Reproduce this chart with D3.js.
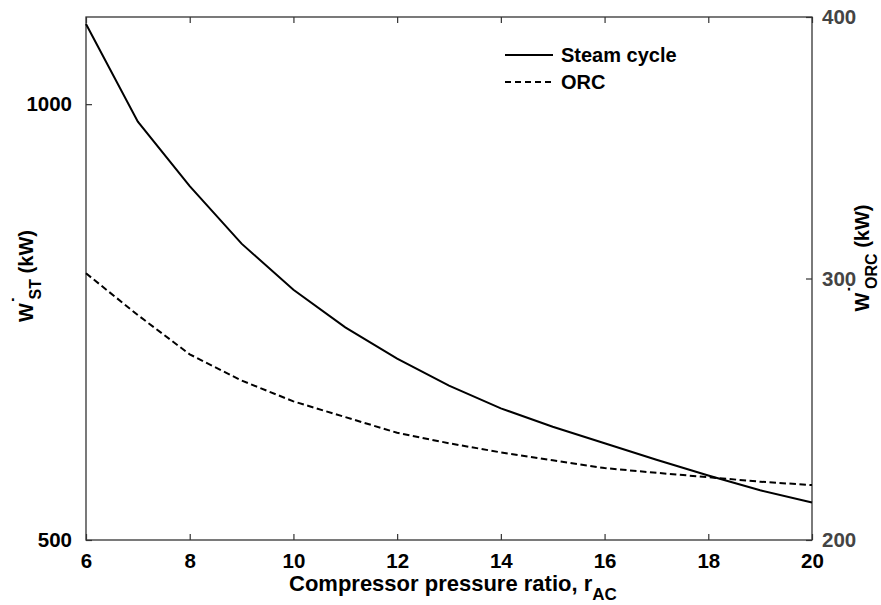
<!DOCTYPE html>
<html>
<head>
<meta charset="utf-8">
<script src="https://cdn.jsdelivr.net/npm/d3@7"></script>
<style>
  body { margin: 0; background: #fff; }
  svg text { font-family: "Liberation Sans", Arial, sans-serif; font-weight: bold; }
</style>
</head>
<body>
<svg id="chart" width="881" height="605"></svg>
<script>
// compressor pressure ratio r_AC
const ratio = [6, 7, 8, 9, 10, 11, 12, 13, 14, 15, 16, 17, 18, 19, 20];
// steam cycle power (kW), left axis
const steamPower = [1092, 980, 906, 840, 787, 744, 708, 677, 651, 630, 611, 592, 574, 557, 543];
// ORC power (kW), right axis
const orcPower = [302, 286, 271, 261, 253, 247, 241, 237, 233.5, 230.5, 227.5, 225.7, 224, 222.3, 221];

const xTicks = [6, 8, 10, 12, 14, 16, 18, 20];
const leftTicks = [500, 1000];
const rightTicks = [200, 300, 400];

const svg = d3.select('#chart'),
  margin = {top: 17, right: 69, bottom: 65, left: 86},
  width = +svg.attr('width') - margin.left - margin.right,
  height = +svg.attr('height') - margin.top - margin.bottom;

const g = svg.append('g').attr('transform', `translate(${margin.left},${margin.top})`);

const x = d3.scaleLinear().domain([6, 20]).range([0, width]);
const yL = d3.scaleLinear().domain([500, 1100]).range([height, 0]);
const yR = d3.scaleLinear().domain([200, 400]).range([height, 0]);

const axisColor = '#333';

// ticks point inwards, like matlab
const styleAxis = sel => {
  sel.select('.domain').remove();
  sel.selectAll('.tick line').attr('stroke', axisColor).attr('stroke-width', 1.2);
  sel.selectAll('.tick text').attr('font-size', 20.5).attr('fill', '#000');
};

g.append('g')
  .attr('transform', `translate(0,${height})`)
  .call(d3.axisBottom(x).tickValues(xTicks).tickSize(-6).tickPadding(13).tickFormat(d3.format('d')))
  .call(styleAxis);

g.append('g')
  .call(d3.axisTop(x).tickValues(xTicks).tickSize(-6).tickFormat(''))
  .call(styleAxis);

g.append('g')
  .call(d3.axisLeft(yL).tickValues(leftTicks).tickSize(-6).tickPadding(14).tickFormat(d3.format('d')))
  .call(styleAxis);

g.append('g')
  .attr('transform', `translate(${width},0)`)
  .call(d3.axisRight(yR).tickValues(rightTicks).tickSize(-6).tickPadding(10).tickFormat(d3.format('d')))
  .call(styleAxis)
  .selectAll('.tick text').attr('fill', '#444');

// box
g.append('rect')
  .attr('width', width)
  .attr('height', height)
  .attr('fill', 'none')
  .attr('stroke', axisColor)
  .attr('stroke-width', 1.3);

const lineL = d3.line().x((d, i) => x(ratio[i])).y(d => yL(d));
const lineR = d3.line().x((d, i) => x(ratio[i])).y(d => yR(d));

g.append('path')
  .datum(steamPower)
  .attr('d', lineL)
  .attr('fill', 'none')
  .attr('stroke', '#000')
  .attr('stroke-width', 2);

g.append('path')
  .datum(orcPower)
  .attr('d', lineR)
  .attr('fill', 'none')
  .attr('stroke', '#000')
  .attr('stroke-width', 2)
  .attr('stroke-dasharray', '6.5,3.5');

// legend
const legend = svg.append('g').attr('transform', 'translate(505,55)');
const legendItems = [
  {name: 'Steam cycle', dash: null},
  {name: 'ORC', dash: '6,4'}
];
legendItems.forEach((item, i) => {
  legend.append('line')
    .attr('x1', 0).attr('x2', 48)
    .attr('y1', i * 27).attr('y2', i * 27)
    .attr('stroke', '#000')
    .attr('stroke-width', 2)
    .attr('stroke-dasharray', item.dash);
  legend.append('text')
    .attr('x', 56)
    .attr('y', i * 27 + 7)
    .attr('font-size', 20)
    .text(item.name);
});

// x label
const xl = svg.append('text')
  .attr('x', 289)
  .attr('y', 591)
  .attr('font-size', 22);
xl.append('tspan').text('Compressor pressure ratio, r');
xl.append('tspan').attr('dy', 9).attr('font-size', 17).text('AC');

// y labels with W-dot and subscript
const yLabel = (cx, cy, sub) => {
  const t = svg.append('text')
    .attr('transform', `translate(${cx},${cy}) rotate(-90)`)
    .attr('text-anchor', 'middle')
    .attr('font-size', 20);
  t.append('tspan').text('W');
  t.append('tspan').attr('dy', -6).text('\u02D9');
  t.append('tspan').attr('dx', -3).attr('dy', 14).attr('font-size', 16).text(sub);
  t.append('tspan').attr('dy', -8).text(' (kW)');
};
yLabel(33, 276, 'ST');
yLabel(869, 258, 'ORC');
</script>
</body>
</html>
